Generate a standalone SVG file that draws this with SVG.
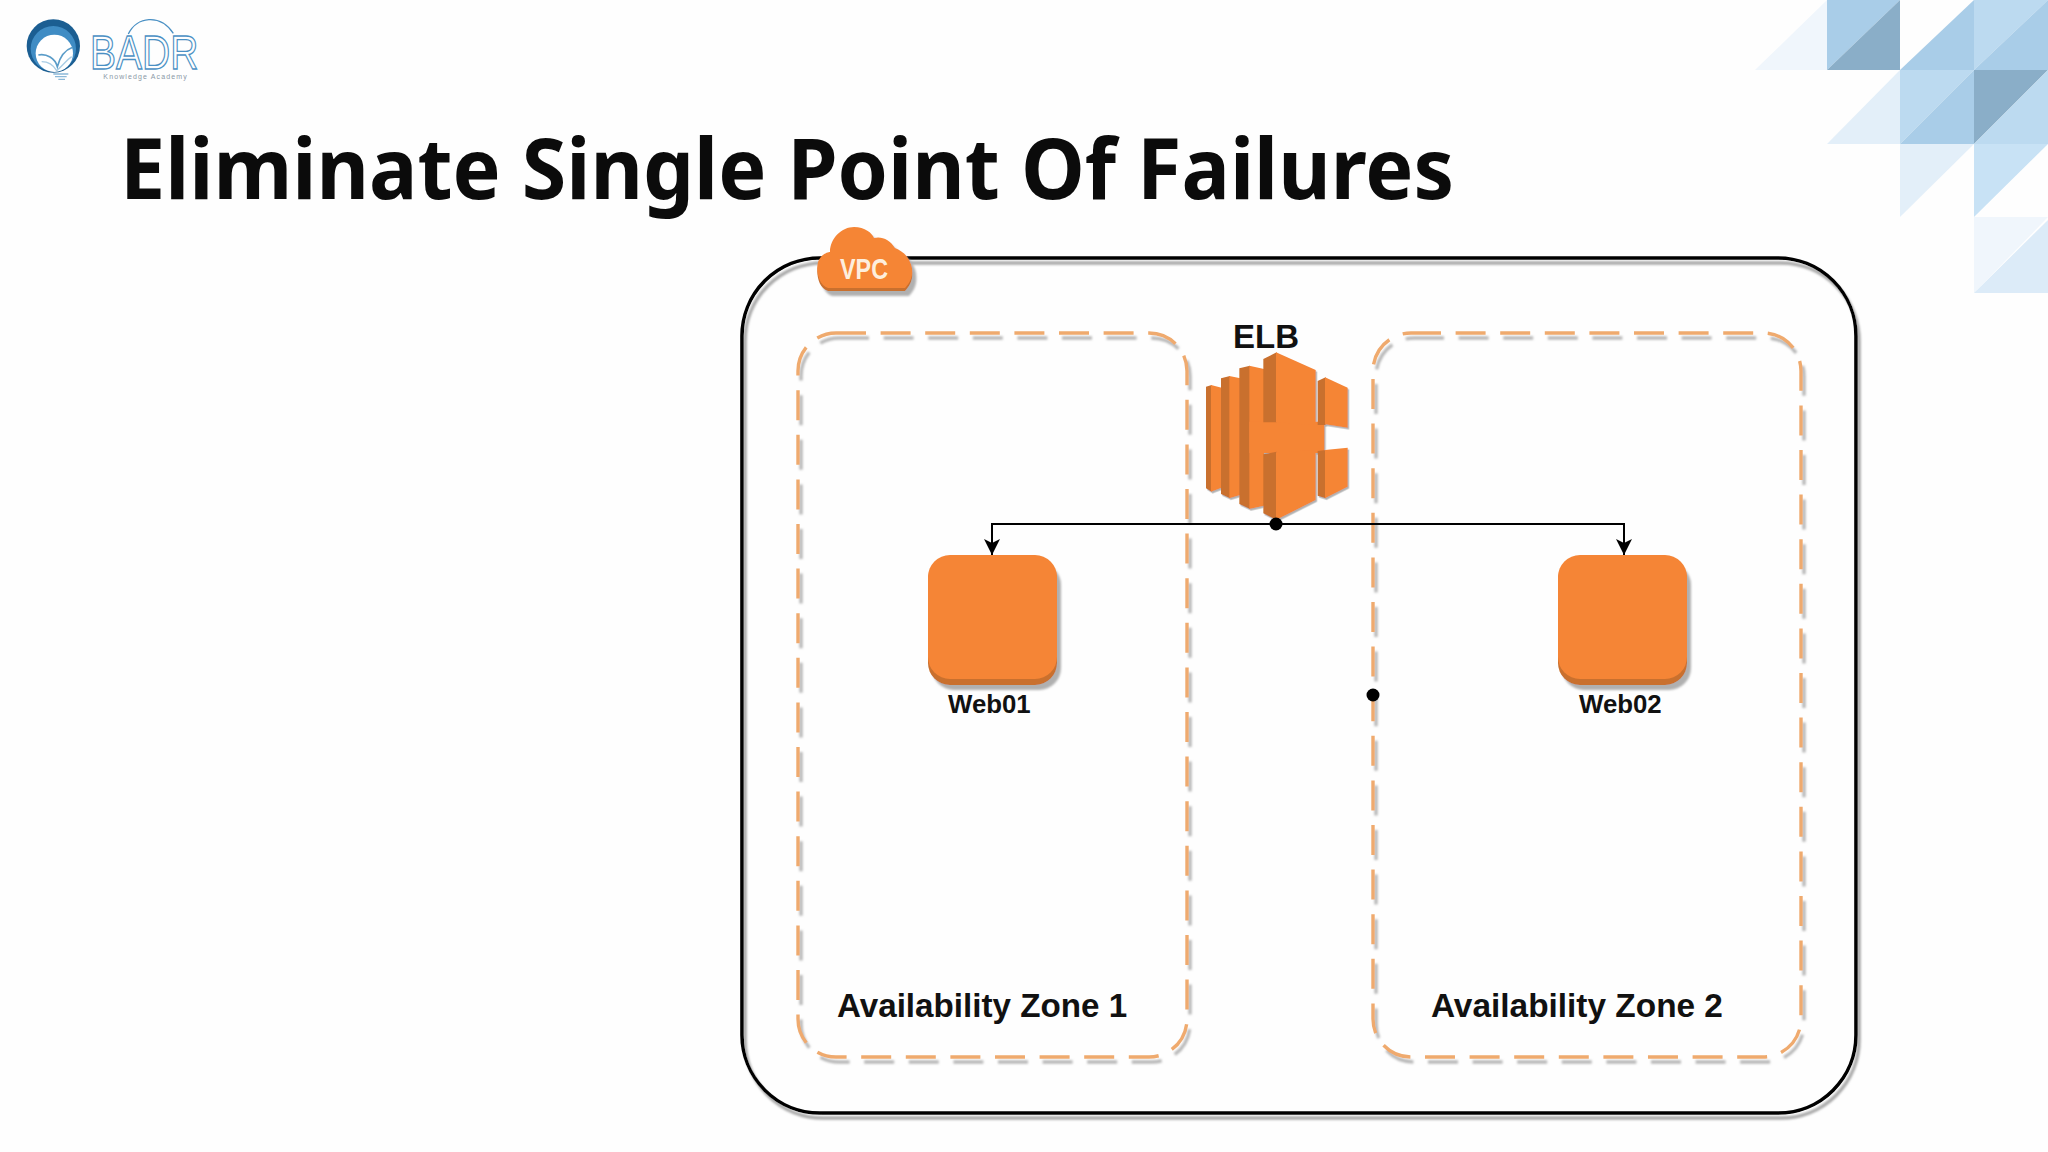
<svg xmlns="http://www.w3.org/2000/svg" width="2048" height="1152" viewBox="0 0 2048 1152">
<style>
.lbl{font-family:"Liberation Sans",Arial,sans-serif;font-weight:700;fill:#111}
.zone{fill:none;stroke:#efaa6e;stroke-width:3.4;stroke-dasharray:30 14.6;filter:url(#shz)}
.m{fill:#f58536}.d{fill:#c96f2e}
.t1{fill:#8aaec8}.t2{fill:#a9cde8}.t3{fill:#bcdaf0}.t4{fill:#e3eff9}.t5{fill:#f0f6fc}
</style>
<defs>
<filter id="sh" x="-5%" y="-5%" width="110%" height="110%"><feDropShadow dx="3" dy="5" stdDeviation="0.8" flood-color="#a8a8a8"/></filter>
<filter id="shz" x="-5%" y="-5%" width="110%" height="110%"><feDropShadow dx="3" dy="5" stdDeviation="0.8" flood-color="#b8b8b8"/></filter>
<filter id="sh2" x="-10%" y="-10%" width="125%" height="125%"><feDropShadow dx="4" dy="5" stdDeviation="1.2" flood-color="#b0b0b0"/></filter>
<marker id="arr" markerUnits="userSpaceOnUse" markerWidth="17" markerHeight="16" refX="16" refY="8" orient="auto"><path d="M0,0L16,8L0,16L4,8Z" fill="#000"/></marker>
</defs>
<rect width="2048" height="1152" fill="#fefefe"/>
<g id="corner">
<path class="t5" d="M1755,70H1827V0Z"/>
<path class="t2" d="M1827,0H1900L1827,70Z"/><path class="t1" d="M1827,70H1900V0Z"/>
<path class="t2" d="M1900,70H1974V0Z"/>
<path class="t3" d="M1974,0H2048L1974,70Z"/><path class="t2" d="M1974,70H2048V0Z"/>
<path class="t4" d="M1827,144H1900V70Z"/>
<path class="t3" d="M1900,70H1974L1900,144Z"/><path class="t2" d="M1900,144H1974V70Z"/>
<path class="t1" d="M1974,70H2048L1974,144Z"/><path class="t3" d="M1974,144H2048V70Z"/>
<path class="t4" d="M1900,144H1974L1900,217Z"/>
<path fill="#c8e2f5" d="M1974,144H2048L1974,217Z"/>
<path class="t5" d="M1974,217H2048L1974,293Z"/><path fill="#dcebf8" d="M1974,293H2048V220Z"/>
</g>
<g id="logo" transform="scale(.33333)">
<circle cx="160" cy="138" r="80" fill="#1b5e92"/>
<circle cx="160" cy="146" r="68" fill="#3f8cc4"/>
<circle cx="163" cy="160" r="56" fill="#fff"/>
<path d="M115,165C140,160 165,175 172,200C180,170 195,150 218,142" fill="none" stroke="#5a9cc8" stroke-width="5"/>
<path d="M125,185C145,185 160,195 170,212C185,200 200,180 215,170" fill="none" stroke="#a8cce4" stroke-width="4"/>
<path d="M160,222H205M165,230H200M175,238H195" stroke="#8ab8d8" stroke-width="4" fill="none"/>
<text x="270" y="207" font-family="'Liberation Sans',sans-serif" font-size="142" fill="none" stroke="#4a90c4" stroke-width="4" textLength="325" lengthAdjust="spacingAndGlyphs">BADR</text>
<path d="M385,102C410,50 480,40 520,100" fill="none" stroke="#4a90c4" stroke-width="4"/>
<text x="310" y="238" font-family="'Liberation Sans',sans-serif" font-size="21" fill="#8a98a6" textLength="250">Knowledge Academy</text>
</g>
<text id="title" x="120" y="199" font-family="'Noto Sans',sans-serif" font-weight="700" font-size="84" fill="#0b0b0b" textLength="1334" lengthAdjust="spacingAndGlyphs">Eliminate Single Point Of Failures</text>
<g id="vpc">
<rect x="742" y="258" width="1114" height="855" rx="78" fill="none" stroke="#000" stroke-width="3.6" filter="url(#sh)"/>
<g id="vpc-badge" filter="url(#sh2)">
<path class="d" transform="translate(0,3)" d="M828,288C818,285 816,270 818,262C821,254 828,252 830,252C830,238 842,227 854,227C865,227 872,233 874,238C882,236 890,240 895,248C902,251 908,256 910,262C914,270 913,280 905,288Z"/>
<path class="m" d="M828,288C818,285 816,270 818,262C821,254 828,252 830,252C830,238 842,227 854,227C865,227 872,233 874,238C882,236 890,240 895,248C902,251 908,256 910,262C914,270 913,280 905,288Z"/>
</g>
<text x="840" y="279" font-family="'Liberation Sans',sans-serif" font-weight="700" font-size="30" fill="#fdeedd" textLength="48" lengthAdjust="spacingAndGlyphs">VPC</text>
</g>
<g id="zone1">
<rect class="zone" x="798" y="333" width="389" height="724" rx="38"/>
<text class="lbl" x="837" y="1017" font-size="33.2">Availability Zone 1</text>
</g>
<g id="zone2">
<rect class="zone" x="1373" y="333" width="428" height="724" rx="38"/>
<text class="lbl" x="1431" y="1017" font-size="33.4">Availability Zone 2</text>
</g>
<g id="elb">
<text class="lbl" x="1233" y="348" font-size="33">ELB</text>
<g transform="translate(1195,345) scale(.33333)" filter="url(#sh2)">
<path class="d" d="M33,125L50,120V440L33,430Z"/><path class="m" d="M48,120L80,128V428L48,440Z"/>
<path class="d" d="M78,100L105,93V460L78,447Z"/><path class="m" d="M103,93L136,100V450L103,460Z"/>
<path class="d" d="M133,70L165,62V492L133,477Z"/><path class="m" d="M163,62L207,72V482L163,492Z"/>
<path class="m" d="M163,230H388V324H163Z"/>
<path class="d" d="M205,42L245,22V232L205,232Z"/><path class="m" d="M243,22L362,75V240L243,232Z"/>
<path class="d" d="M368,108L392,97V240H368Z"/><path class="m" d="M390,97L458,128V248L390,238Z"/>
<path class="d" d="M205,328L245,320V525L205,505Z"/><path class="m" d="M243,322L362,315V465L243,525Z"/>
<path class="d" d="M368,318L392,315V460L368,452Z"/><path class="m" d="M390,315L458,308V425L390,460Z"/>
</g>
</g>
<g id="web01">
<rect class="d" x="928" y="558" width="129" height="127" rx="22" filter="url(#sh2)"/>
<rect class="m" x="928" y="555" width="129" height="124" rx="22"/>
<text class="lbl" x="948" y="713" font-size="25.8">Web01</text>
</g>
<g id="web02">
<rect class="d" x="1558" y="558" width="129" height="127" rx="22" filter="url(#sh2)"/>
<rect class="m" x="1558" y="555" width="129" height="124" rx="22"/>
<text class="lbl" x="1579" y="713" font-size="25.8">Web02</text>
</g>
<g id="connectors" fill="none" stroke="#000" stroke-width="2">
<path d="M1276,524H992V555" marker-end="url(#arr)"/>
<path d="M1276,524H1624V555" marker-end="url(#arr)"/>
<circle cx="1276" cy="524" r="6.5" fill="#000" stroke="none"/>
<circle cx="1373" cy="695" r="6.5" fill="#000" stroke="none"/>
</g>
</svg>
